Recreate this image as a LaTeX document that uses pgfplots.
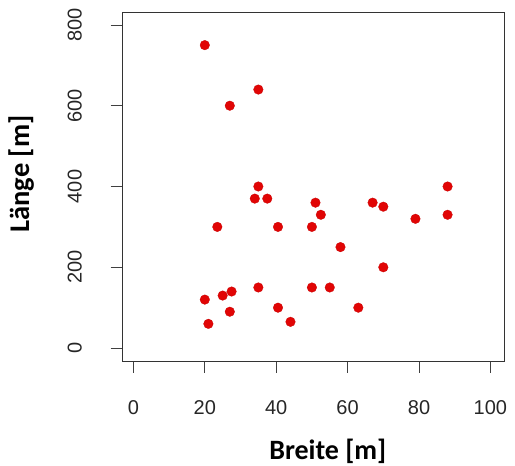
\documentclass[border=0pt]{standalone}
\usepackage{pgfplots}
\pgfplotsset{compat=1.18}
\usepackage{fontspec}
\setmainfont{Liberation Sans}
\newfontfamily\labfont{Carlito}
\definecolor{ptred}{RGB}{225,5,5}
\begin{document}
\begin{tikzpicture}
\begin{axis}[
  at={(0,0)}, anchor=south west,
  scale only axis, width=382pt, height=349pt,
  xmin=-3, xmax=104, ymin=-32, ymax=832,
  xtick={0,20,40,60,80,100}, ytick={0,200,400,600,800},
  tick align=outside, major tick length=12pt,
  tick style={black!75, line width=0.7pt},
  axis line style={black!80, line width=0.8pt},
  xtick pos=bottom, ytick pos=left,
  /pgf/number format/assume math mode=true,
  ticklabel style={font=\fontsize{20}{24}\selectfont, text=black!85},
  xticklabel style={anchor=center, yshift=-35pt},
  yticklabel style={anchor=center, rotate=90, yshift=36pt},
  xlabel={Breite [m]}, ylabel={Länge [m]},
  xlabel style={font=\labfont\bfseries\fontsize{28}{32}\selectfont, at={(axis description cs:0.537,-0.258)}, anchor=center},
  ylabel style={font=\labfont\bfseries\fontsize{28.5}{32}\selectfont, at={(axis description cs:-0.266,0.536)}, anchor=center, rotate=0},
]
\addplot[only marks, mark=*, mark size=4.8pt, mark options={fill=ptred, draw=ptred!90!black, line width=0.3pt}] coordinates {
(20,750) (35,640) (27,600) (35,400) (34,370) (37.5,370) (51,360) (52.5,330)
(67,360) (70,350) (88,400) (88,330) (79,320) (23.5,300) (40.5,300) (50,300)
(58,250) (70,200) (20,120) (25,130) (27.5,140) (35,150) (50,150) (55,150)
(27,90) (40.5,100) (63,100) (21,60) (44,65)
};
\end{axis}
\pgfresetboundingbox
\path[use as bounding box] (-122.7pt,-105pt) rectangle (392.3pt,361pt);
\end{tikzpicture}
\end{document}
